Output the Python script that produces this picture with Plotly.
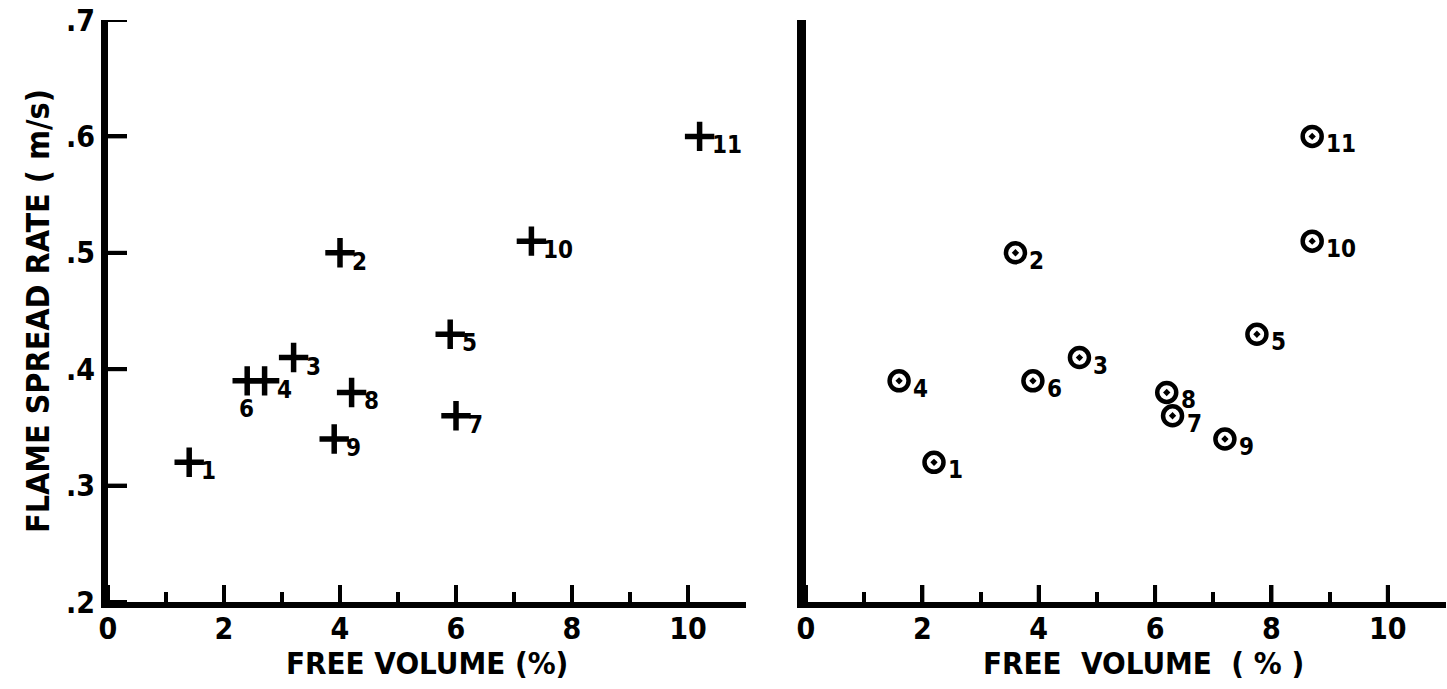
import plotly.graph_objects as go

# ---- data ----
point_ids = ["1", "2", "3", "4", "5", "6", "7", "8", "9", "10", "11"]
flame_spread = [0.32, 0.50, 0.41, 0.39, 0.43, 0.39, 0.36, 0.38, 0.34, 0.51, 0.60]
free_vol_left = [1.4, 4.0, 3.2, 2.7, 5.9, 2.4, 6.0, 4.2, 3.9, 7.3, 10.2]
free_vol_right = [2.2, 3.6, 4.7, 1.6, 7.75, 3.9, 6.3, 6.2, 7.2, 8.7, 8.7]

x_tick_vals = [0, 2, 4, 6, 8, 10]
x_tick_text = ["0", "2", "4", "6", "8", "10"]
x_minor_vals = [1, 3, 5, 7, 9, 11]
y_tick_vals = [0.2, 0.3, 0.4, 0.5, 0.6, 0.7]
y_tick_text = [".2", ".3", ".4", ".5", ".6", ".7"]

X_RANGE = [0, 11]
Y_RANGE = [0.2, 0.7]

FONT = "DejaVu Sans Condensed, DejaVu Sans, sans-serif"
W, H = 1447, 689
L, R, T, B = 108, 1, 20, 87
pw = W - L - R
ph = H - T - B

left_dom = [0, (746 - L) / pw]
right_dom = [(806 - L) / pw, 1]

# pixel -> data-unit conversion for the tick lengths
x_px_per_unit = (left_dom[1] - left_dom[0]) * pw / (X_RANGE[1] - X_RANGE[0])
y_px_per_unit = ph / (Y_RANGE[1] - Y_RANGE[0])
XMAJ_LEN = 17 / y_px_per_unit
YMAJ_LEN = 19 / x_px_per_unit

fig = go.Figure()

# long (major) tick marks as line segments built from the tick arrays
xt_x, xt_y = [], []
for v in x_tick_vals:
    xt_x += [v, v, None]
    xt_y += [Y_RANGE[0], Y_RANGE[0] + XMAJ_LEN, None]
yt_x, yt_y = [], []
for v in y_tick_vals:
    yt_x += [X_RANGE[0], X_RANGE[0] + YMAJ_LEN, None]
    yt_y += [v, v, None]

for xa, ya in (("x", "y"), ("x2", "y2")):
    fig.add_trace(go.Scatter(x=xt_x, y=xt_y, mode="lines",
                             line=dict(color="black", width=4),
                             cliponaxis=False, connectgaps=False,
                             xaxis=xa, yaxis=ya, showlegend=False, hoverinfo="skip"))
fig.add_trace(go.Scatter(x=yt_x, y=yt_y, mode="lines",
                         line=dict(color="black", width=4),
                         cliponaxis=False, connectgaps=False,
                         xaxis="x", yaxis="y", showlegend=False, hoverinfo="skip"))

fig.add_trace(go.Scatter(
    x=free_vol_left, y=flame_spread, mode="markers",
    marker=dict(symbol="cross-thin", size=21, color="black",
                line=dict(width=5.5, color="black")),
    xaxis="x", yaxis="y", showlegend=False, hoverinfo="skip"))

fig.add_trace(go.Scatter(
    x=free_vol_right, y=flame_spread, mode="markers",
    marker=dict(symbol="circle-open-dot", size=19, color="black",
                line=dict(width=4.5, color="black")),
    xaxis="x2", yaxis="y2", showlegend=False, hoverinfo="skip"))

annotations = []
lab_font = dict(family=FONT, size=24, color="black", weight="bold")
for pid, xv, yv in zip(point_ids, free_vol_left, flame_spread):
    if pid == "6":
        annotations.append(dict(x=xv, y=yv, xref="x", yref="y", text=pid,
                                showarrow=False, xanchor="center", yanchor="middle",
                                xshift=-1, yshift=-28, font=lab_font))
    else:
        annotations.append(dict(x=xv, y=yv, xref="x", yref="y", text=pid,
                                showarrow=False, xanchor="left", yanchor="middle",
                                xshift=10, yshift=-9, font=lab_font))
for pid, xv, yv in zip(point_ids, free_vol_right, flame_spread):
    annotations.append(dict(x=xv, y=yv, xref="x2", yref="y2", text=pid,
                            showarrow=False, xanchor="left", yanchor="middle",
                            xshift=12, yshift=-8, font=lab_font))

title_font = dict(family=FONT, size=31, color="black", weight="bold")
annotations.append(dict(x=(38 - L) / pw, y=0.5, xref="paper", yref="paper",
                        text="FLAME SPREAD RATE ( m/s)", textangle=-90,
                        showarrow=False, xanchor="center", yanchor="middle",
                        font=dict(family=FONT, size=32, color="black", weight="bold")))

title_y = -(663 - (H - B)) / ph
annotations.append(dict(x=(left_dom[0] + left_dom[1]) / 2, y=title_y, xref="paper",
                        yref="paper", text="FREE VOLUME (%)", showarrow=False,
                        xanchor="center", yanchor="middle", font=title_font))
annotations.append(dict(x=(1143 - L) / pw, y=title_y, xref="paper",
                        yref="paper", text="FREE\u00a0\u00a0VOLUME\u00a0\u00a0(\u00a0%\u00a0)",
                        showarrow=False, xanchor="center", yanchor="middle",
                        font=title_font))

tick_font = dict(family=FONT, size=30, color="black", weight="bold")

xcommon = dict(range=X_RANGE, showline=True, linewidth=6, linecolor="black",
               ticks="inside", ticklen=17, tickwidth=4, tickcolor="black",
               tickvals=x_tick_vals, ticktext=x_tick_text, tickfont=tick_font,
               showgrid=False, zeroline=False, ticklabelstandoff=-5,
               minor=dict(ticks="inside", ticklen=10, tickwidth=4, tickcolor="black",
                          tickvals=x_minor_vals, showgrid=False))

fig.update_layout(
    template="none",
    width=W, height=H,
    margin=dict(l=L, r=R, t=T, b=B, autoexpand=False),
    paper_bgcolor="white", plot_bgcolor="white",
    xaxis=dict(domain=left_dom, anchor="y", **xcommon),
    xaxis2=dict(domain=right_dom, anchor="y2", **xcommon),
    yaxis=dict(range=Y_RANGE, domain=[0, 1], anchor="x", showline=True,
               linewidth=7, linecolor="black", ticks="inside", ticklen=19,
               tickwidth=4, tickcolor="black", tickvals=y_tick_vals,
               ticktext=y_tick_text, tickfont=tick_font, showgrid=False,
               zeroline=False),
    yaxis2=dict(range=Y_RANGE, domain=[0, 1], anchor="x2", showline=True,
                linewidth=9, linecolor="black", ticks="", showticklabels=False,
                showgrid=False, zeroline=False),
    annotations=annotations,
)

fig.write_html("out.html", config={"displayModeBar": False, "staticPlot": True},
               post_script="document.body.style.margin='0';document.body.style.overflow='hidden';")
